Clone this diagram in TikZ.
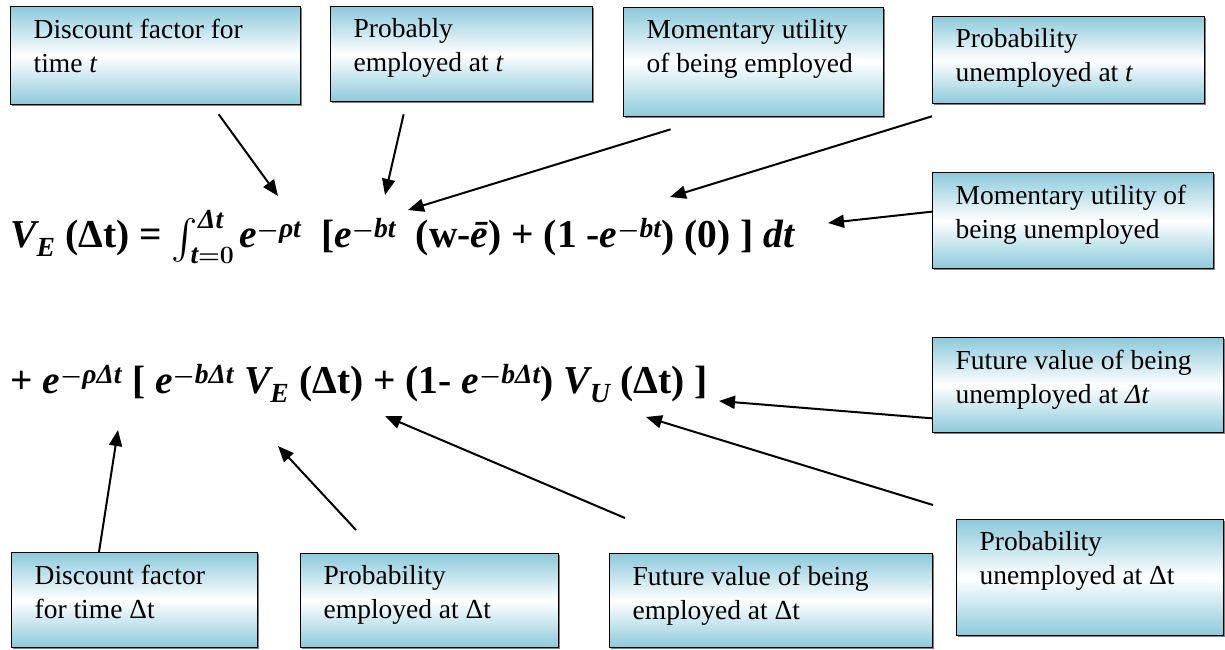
\documentclass[tikz,border=0pt]{standalone}
\usepackage{amsmath,amssymb,bm}
\usepackage{fontspec}
\setmainfont{Liberation Serif}
\usetikzlibrary{arrows.meta,calc,positioning,shadows}
\definecolor{boxblue}{RGB}{140,202,219}
\newcommand{\notetext}[3]{\parbox[c][#2][t]{#1}{\raggedright\leftskip=23pt\vspace*{12pt}#3}}
\newcommand{\mi}[1]{\text{\itshape #1}}
\tikzset{note/.style={draw,line width=1.3pt,top color=boxblue,bottom color=boxblue,middle color=white,
    inner sep=0pt,anchor=north west,font=\fontsize{27.5}{34}\selectfont,
    drop shadow={shadow xshift=1pt,shadow yshift=-1pt,opacity=.5,fill=black}},
  arr/.style={-{Triangle[length=16pt,width=13pt]},line width=2pt},
  eqn/.style={anchor=base west,inner sep=0pt,font=\fontsize{39.5}{46}\selectfont\bfseries\boldmath}}

\begin{document}
\begin{tikzpicture}[x=1pt,y=-1pt]
\useasboundingbox (0,0) rectangle (1225,649);
% the two lines of the equation
\node[eqn] (line1) at (10,247) {$\mi{V}_{\mi{E}}$ (Δt) = $\int_{\mi{t}=0}^{\mi{Δt}} \mi{e}^{-\mi{ρt}}$\ \ [$\mi{e}^{-\mi{bt}}$\ \ (w-\textit{ē}) + (1 -$\mi{e}^{-\mi{bt}}$) (0) ] $\mi{dt}$};
\node[eqn] (line2) at (10,393) {+ $\mi{e}^{-\mi{ρΔt}}$ [ $\mi{e}^{-\mi{bΔt}}$ $\mi{V}_{\mi{E}}$ (Δt) + (1- $\mi{e}^{-\mi{bΔt}}$) $\mi{V}_{\mi{U}}$ (Δt) ]};
% where the arrows point
\coordinate (disc) at (278,196);
\coordinate (pemp) at (385,195);
\coordinate (uemp) at (408,210);
\coordinate (punemp) at (670,197);
\coordinate (uunemp) at (828,223);
\coordinate (fvunemp) at (719,401);
\coordinate (pdunemp) at (646,417);
\coordinate (fvemp) at (385,416);
\coordinate (pdemp) at (278,446);
\coordinate (ddisc) at (118,430);
% boxes, top row
\node[note] (b1) at (10,6) {\notetext{290pt}{98pt}{Discount factor for\\time \textit{t}}};
\node[note] (b2) at (330,6) {\notetext{262pt}{95pt}{Probably\\employed at \textit{t}}};
\node[note] (b3) at (623,7) {\notetext{260pt}{109pt}{Momentary utility\\of being employed}};
\node[note] (b4) at (932,16) {\notetext{272pt}{87pt}{Probability\\unemployed at \textit{t}}};
\node[note] (b5) at (932,172) {\notetext{281pt}{96pt}{Momentary utility of\\being unemployed}};
% boxes, lower part
\node[note] (b6) at (932,337) {\notetext{291pt}{95pt}{Future value of being\\unemployed at \textit{Δt}}};
\node[note] (b10) at (956,519) {\notetext{267pt}{116pt}{Probability\\unemployed at Δt}};
\node[note] (b7) at (11,552) {\notetext{246pt}{95pt}{Discount factor\\for time Δt}};
\node[note] (b8) at (300,553) {\notetext{258pt}{94pt}{Probability\\employed at Δt}};
\node[note] (b9) at (609,553) {\notetext{323pt}{94pt}{Future value of being\\employed at Δt}};
% arrows
\draw[arr] ([shift={(63,9)}]b1.south) -- (disc);
\draw[arr] ([shift={(-58,12)}]b2.south) -- (pemp);
\draw[arr] ([shift={(-83,12)}]b3.south) -- (uemp);
\draw[arr] ([shift={(0,12)}]b4.south west) -- (punemp);
\draw[arr] ([shift={(0,-9)}]b5.west) -- (uunemp);
\draw[arr] ([shift={(0,-15)}]b6.south west) -- (fvunemp);
\draw[arr] ([shift={(-23,-14)}]b10.north west) -- (pdunemp);
\draw[arr] ([shift={(16,-35)}]b9.north west) -- (fvemp);
\draw[arr] ([shift={(56,-23)}]b8.north west) -- (pdemp);
\draw[arr] ([shift={(88,0)}]b7.north west) -- (ddisc);
\end{tikzpicture}
\end{document}
